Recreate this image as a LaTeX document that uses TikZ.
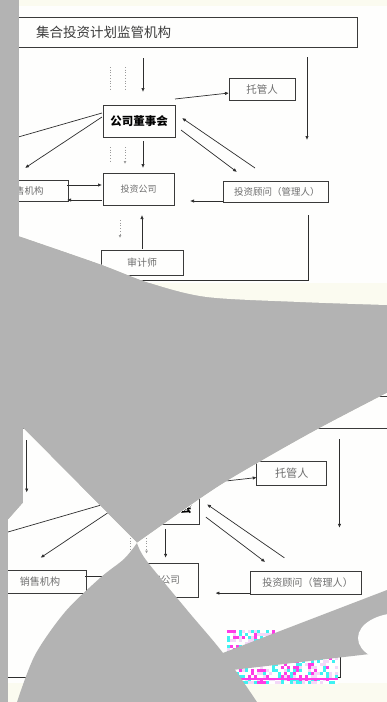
\documentclass[tikz,border=0pt]{standalone}
\usepackage{fontspec}
\newfontfamily\cjk{Noto Sans CJK SC}
\usetikzlibrary{arrows.meta,calc}
\definecolor{grayov}{HTML}{B3B3B3}
\definecolor{creamc}{HTML}{FBFBF0}
\definecolor{whitec}{HTML}{FEFEFD}
\definecolor{boxc}{HTML}{3A3A3A}
\definecolor{linec}{HTML}{2E2E2E}
\definecolor{txtc}{HTML}{6E6E6E}
\definecolor{titlec}{HTML}{3C3C3C}
\definecolor{dotc}{HTML}{9A9A9A}
\definecolor{mag}{HTML}{FF3BE6}
\definecolor{cyn}{HTML}{3FF2F2}
\definecolor{lav}{HTML}{F3D8F8}
\tikzset{
  diabox/.style={draw=boxc, line width=0.8pt, inner sep=0pt, text=txtc, fill=none},
  txt/.style={inner sep=0pt, text=txtc},
  arr/.style={draw=linec, line width=0.7pt, -{Latex[length=4pt,width=3.4pt]}},
  plainln/.style={draw=linec, line width=0.7pt},
  dotln/.style={draw=dotc, line width=0.7pt, dotted},
  dotarr/.style={draw=dotc, line width=0.7pt, dotted, -{Latex[length=3pt,width=3pt]}},
}
\newcommand\flowdiagram{%
  \node[diabox, minimum width=355pt, minimum height=30pt] (title) at (179.5,32) {};
  \node[txt, anchor=west, text=titlec, font=\cjk\fontsize{13.5}{14}\selectfont] (titlet) at (36,32.5) {集合投资计划监管机构};
  \node[diabox, minimum width=72pt, minimum height=32pt, text=black, font=\cjk\bfseries\fontsize{11.5}{12}\selectfont] (board) at (139,121) {公司董事会};
  \node[diabox, minimum width=66pt, minimum height=22pt, font=\cjk\fontsize{10.5}{11}\selectfont] (trustee) at (262,89) {托管人};
  \node[diabox, minimum width=71pt, minimum height=32pt, font=\cjk\fontsize{9}{10}\selectfont] (invco) at (138.5,189) {投资公司};
  \node[diabox, minimum width=105pt, minimum height=21pt] (adviser) at (275.5,191.5) {};
  \node[txt, anchor=west, font=\cjk\fontsize{9.5}{10}\selectfont] (advisert) at (234,191.5) {投资顾问（管理人）};
  \node[diabox, minimum width=87pt, minimum height=21pt, font=\cjk\fontsize{9.5}{10}\selectfont] (sales) at (24.5,190.5) {销售机构};
  \node[diabox, minimum width=82pt, minimum height=25pt, font=\cjk\fontsize{10}{11}\selectfont] (auditor) at (142,262.5) {审计师};
  % free ends
  \coordinate (tA) at (143,58);   \coordinate (tB) at (143,92);
  \coordinate (dA1) at (110,67);  \coordinate (dA2) at (110,90);
  \coordinate (dB1) at (125,67);  \coordinate (dB2) at (125,90);
  \coordinate (bT1) at (175,99);  \coordinate (bT2) at (229,93);
  \coordinate (rA1) at (307,57);  \coordinate (rA2) at (307,140);
  \coordinate (lA1) at (102,113); \coordinate (lA2) at (-20,148);
  \coordinate (sA1) at (102,117); \coordinate (sA2) at (25,168);
  \coordinate (bI1) at (143,141); \coordinate (bI2) at (143,168);
  \coordinate (dC1) at (110,147); \coordinate (dC2) at (110,163);
  \coordinate (dD1) at (125,147); \coordinate (dD2) at (125,164);
  \coordinate (bV1) at (181,130); \coordinate (bV2) at (237,172);
  \coordinate (vB1) at (255,168); \coordinate (vB2) at (182,118);
  \coordinate (sI1) at (67,185);  \coordinate (sI2) at (102,185);
  \coordinate (iS1) at (102,200); \coordinate (iS2) at (67,200);
  \coordinate (vI1) at (223,201); \coordinate (vI2) at (190,201);
  \coordinate (dE1) at (120,220); \coordinate (dE2) at (120,238);
  \coordinate (aI1) at (142,249); \coordinate (aI2) at (142,215);
  \coordinate (rL1) at (308,215); \coordinate (rL2) at (308,280); \coordinate (rL3) at (-20,280);
  \coordinate (lV1) at (12,58);   \coordinate (lV2) at (12,107);
  % connectors
  \draw[arr] (tA) -- (tB);
  \draw[dotln] (dA1) -- (dA2);
  \draw[dotln] (dB1) -- (dB2);
  \draw[arr] (bT1) -- (bT2);
  \draw[arr] (rA1) -- (rA2);
  \draw[plainln] (lA1) -- (lA2);
  \draw[arr] (sA1) -- (sA2);
  \draw[arr] (bI1) -- (bI2);
  \draw[dotln] (dC1) -- (dC2);
  \draw[dotarr] (dD1) -- (dD2);
  \draw[arr] (bV1) -- (bV2);
  \draw[arr] (vB1) -- (vB2);
  \draw[arr] (sI1) -- (sI2);
  \draw[arr] (iS1) -- (iS2);
  \draw[arr] (vI1) -- (vI2);
  \draw[dotarr] (dE1) -- (dE2);
  \draw[arr] (aI1) -- (aI2);
  \draw[plainln] (rL1) -- (rL2) -- (rL3);
  \draw[arr] (lV1) -- (lV2);
}
\begin{document}
\begin{tikzpicture}[x=1pt,y=-1pt]
\useasboundingbox (0,0) rectangle (387,702);
\fill[grayov] (0,0) rectangle (387,702);
% ---------- upper view ----------
\begin{scope}
  \clip (19,0) -- (387,0) -- plot[smooth] coordinates {(387,305) (300,302) (207,297) (150,283) (100,264) (19,236)} -- cycle;
  \fill[creamc] (0,0) rectangle (387,702);
  \fill[whitec] (19,6) rectangle (387,283);
  \flowdiagram
\end{scope}
% ---------- lower view ----------
\begin{scope}
  \clip plot[smooth] coordinates {(387,393) (320,428) (263,460) (213,490) (137,543)} -- (23,428) -- (23,503) -- (8,520) -- (8,702) -- (387,702) -- cycle;
  \fill[creamc] (0,300) rectangle (387,702);
  \fill[whitec] (8,385) rectangle (387,683);
  \begin{scope}[shift={(14,378)}, xscale=1.06, yscale=1.07, transform shape]
    \flowdiagram
  \end{scope}
  % dithered patch
  \pgfmathsetseed{12345}
  \foreach \i in {0,...,36}{%
    \foreach \j in {0,...,17}{%
      \pgfmathrandominteger{\rr}{0}{4}%
      \ifcase\rr\relax \def\cc{mag}\or\def\cc{cyn}\or\def\cc{lav}\else\def\cc{white}\fi
      \fill[\cc] ({227+3*\i},{630+3*\j}) rectangle ++(3,3);
    }%
  }
  \draw[mag, line width=1.2pt] (227,679) -- (338,679);
  % grey overlays
  \fill[grayov] plot[smooth] coordinates {(17,702) (35,655) (65,612) (100,578) (124,559) (137,543)}
     -- plot[smooth] coordinates {(137,543) (146,560) (187,610) (223,653) (257,702)} -- cycle;
  \fill[grayov] (215,656) -- (387,590) -- (387,652) -- (215,672) -- cycle;
  \fill[whitec] (400,638) ellipse [x radius=42pt, y radius=25pt];
\end{scope}
\end{tikzpicture}
\end{document}
